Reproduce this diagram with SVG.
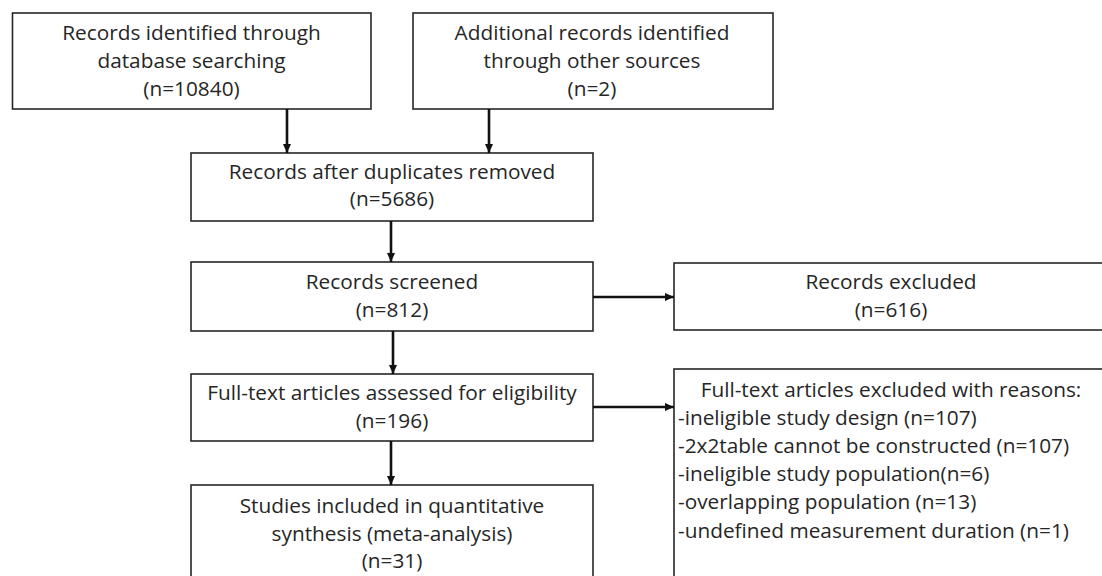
<svg xmlns="http://www.w3.org/2000/svg" width="1102" height="576" viewBox="0 0 1102 576">
<style>
.box{fill:#fff;stroke:#262626;stroke-width:1.6}
.t{font-family:"Open Sans","Noto Sans",sans-serif;font-size:20.8px;fill:#262626}
.c{text-anchor:middle}
.edge{stroke:#111;stroke-width:2.6;fill:none;marker-end:url(#ah)}
</style>
<defs>
<marker id="ah" markerUnits="userSpaceOnUse" markerWidth="10" markerHeight="10" refX="9" refY="5" orient="auto">
<path d="M0,1 L9,5 L0,9 Z" fill="#111"/>
</marker>
</defs>
<rect width="1102" height="576" fill="#fff"/>
<g id="n1">
<rect class="box" x="12.5" y="13" width="358.5" height="96"/>
<text class="t c" x="191.5" y="40">Records identified through</text>
<text class="t c" x="191.5" y="68">database searching</text>
<text class="t c" x="191.5" y="96">(n=10840)</text>
</g>
<g id="n2">
<rect class="box" x="413" y="13" width="360" height="96"/>
<text class="t c" x="592" y="40">Additional records identified</text>
<text class="t c" x="592" y="68">through other sources</text>
<text class="t c" x="592" y="96">(n=2)</text>
</g>
<g id="n3">
<rect class="box" x="191" y="153" width="402" height="68"/>
<text class="t c" x="392" y="179">Records after duplicates removed</text>
<text class="t c" x="392" y="206">(n=5686)</text>
</g>
<g id="n4">
<rect class="box" x="191" y="262" width="402" height="69"/>
<text class="t c" x="392" y="289">Records screened</text>
<text class="t c" x="392" y="317">(n=812)</text>
</g>
<g id="n5">
<rect class="box" x="674" y="263" width="440" height="67"/>
<text class="t c" x="891" y="289">Records excluded</text>
<text class="t c" x="891" y="317">(n=616)</text>
</g>
<g id="n6">
<rect class="box" x="191" y="374" width="402" height="67"/>
<text class="t c" x="392" y="400">Full-text articles assessed for eligibility</text>
<text class="t c" x="392" y="428">(n=196)</text>
</g>
<g id="n7">
<rect class="box" x="674" y="369" width="440" height="220"/>
<text class="t c" x="891" y="397">Full-text articles excluded with reasons:</text>
<text class="t" x="678" y="425">-ineligible study design (n=107)</text>
<text class="t" x="678" y="453">-2x2table cannot be constructed (n=107)</text>
<text class="t" x="678" y="481">-ineligible study population(n=6)</text>
<text class="t" x="678" y="509">-overlapping population (n=13)</text>
<text class="t" x="678" y="538">-undefined measurement duration (n=1)</text>
</g>
<g id="n8">
<rect class="box" x="191" y="485" width="402" height="110"/>
<text class="t c" x="392" y="513">Studies included in quantitative</text>
<text class="t c" x="392" y="541">synthesis (meta-analysis)</text>
<text class="t c" x="392" y="568">(n=31)</text>
</g>
<g id="connectors">
<path class="edge" d="M287,109 V153"/>
<path class="edge" d="M489,109 V153"/>
<path class="edge" d="M391,221 V262"/>
<path class="edge" d="M593,297 H674"/>
<path class="edge" d="M393,331 V374"/>
<path class="edge" d="M593,407 H674"/>
<path class="edge" d="M391,441 V485"/>
</g>
</svg>
